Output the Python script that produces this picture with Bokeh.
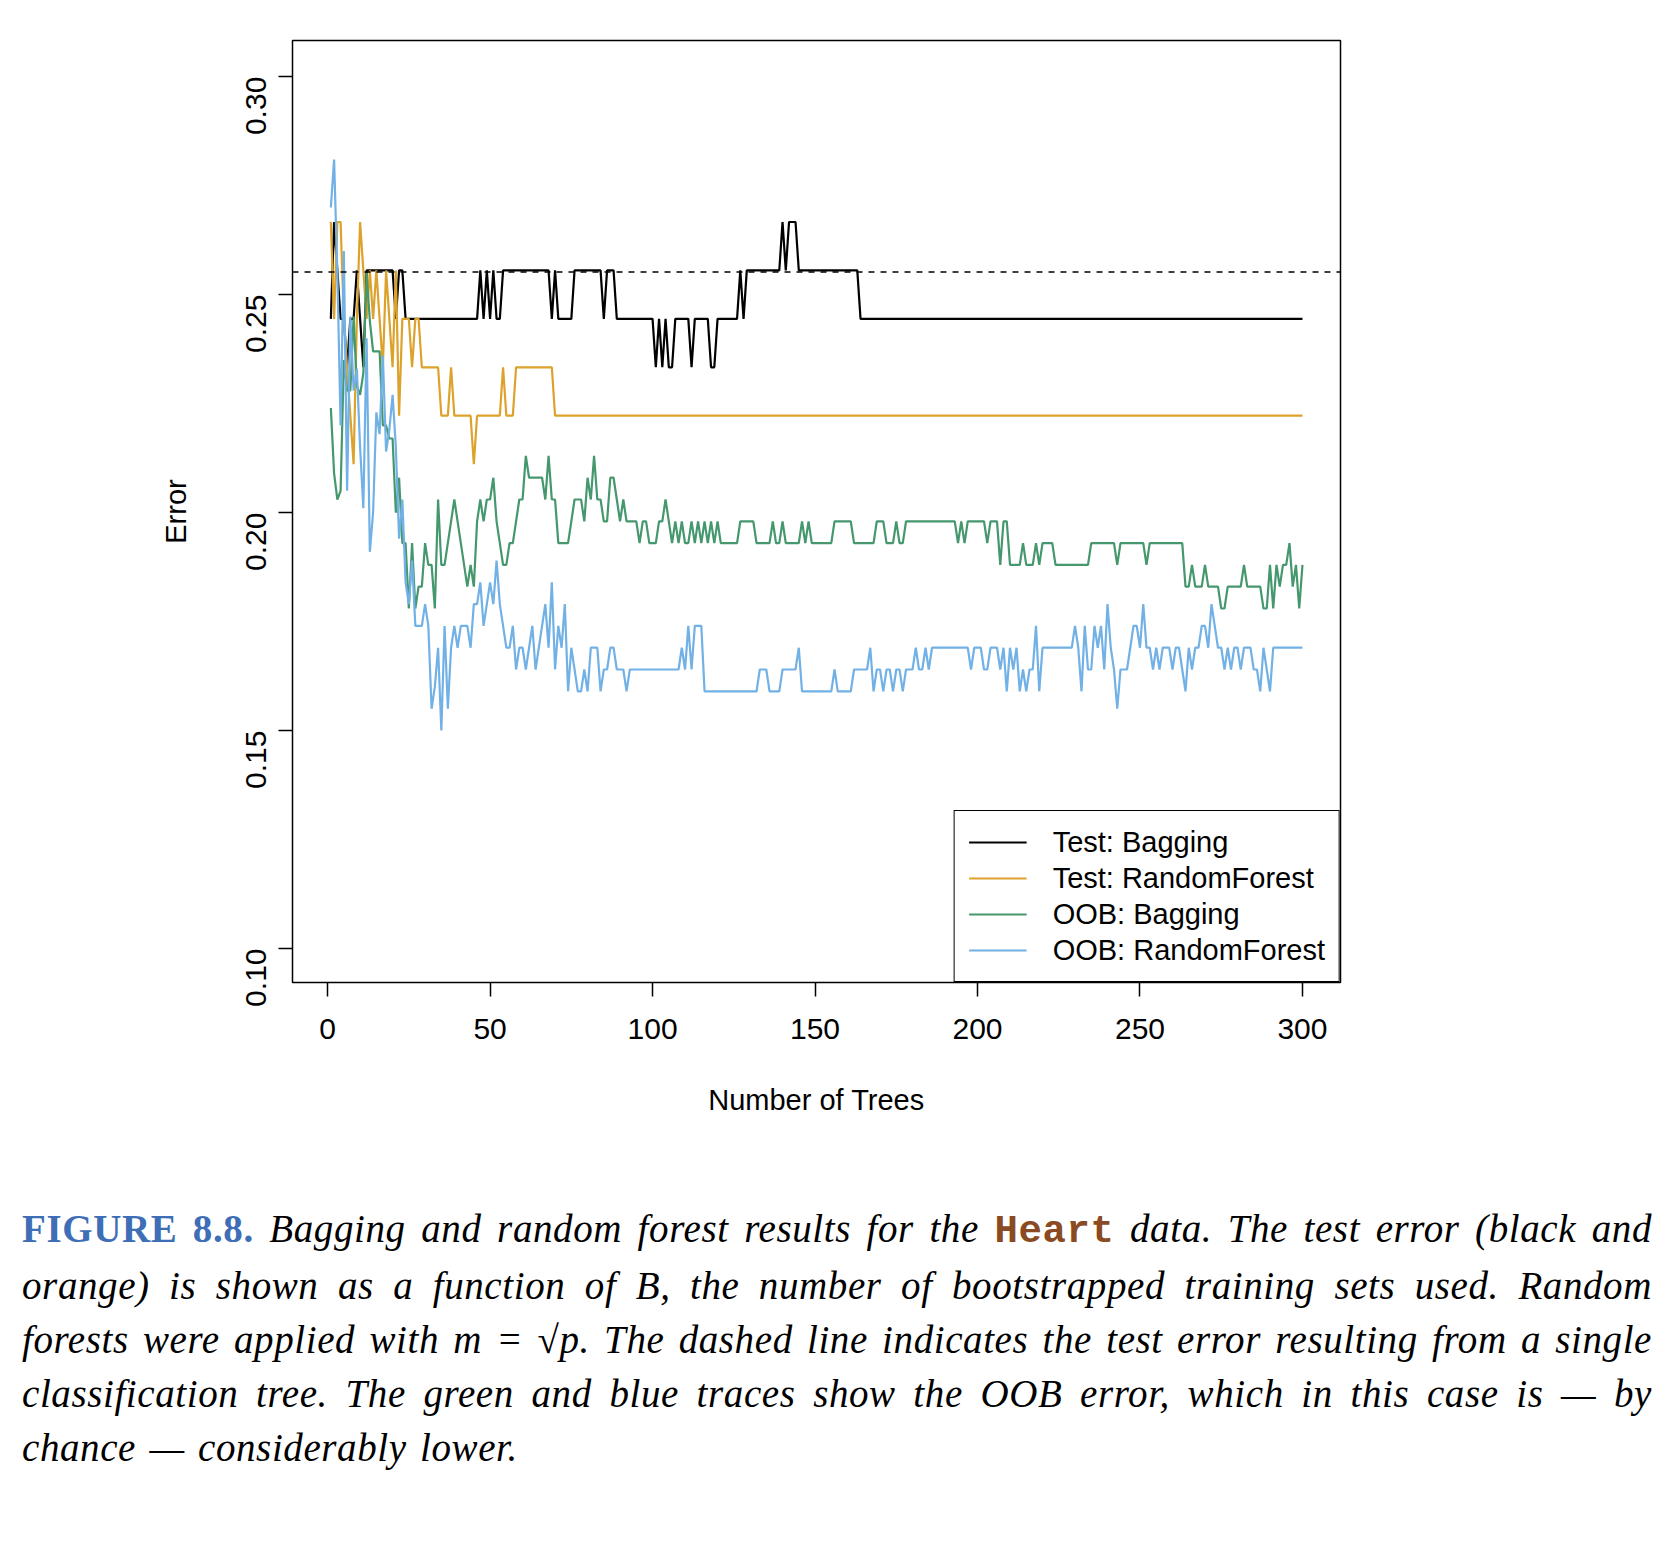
import numpy as np

from bokeh.plotting import figure
from bokeh.layouts import column
from bokeh.models import Span, Range1d, FixedTicker, Legend, LegendItem, Div
from bokeh.embed import file_html
from bokeh.resources import INLINE

# values, as (value, number of trees) runs
test_bag_runs = [(22,1),(24,1),(23,1),(22,2),(21,1),(22,2),(23,1),(22,1),(21,1),(23,9),(22,1),(23,2),(22,23),
                 (23,1),(22,1),(23,1),(22,1),(23,1),(22,2),(23,15),
                 (22,1),(23,1),(22,5),(23,9),(22,1),(23,3),(22,12),
                 (21,1),(22,1),(21,1),(22,1),(21,2),(22,5),(21,1),(22,5),(21,2),(22,5),
                 (22,2),(23,1),(22,1),(23,11),(24,1),(23,1),(24,3),(23,19),(22,137)]
test_rf_runs = [(24,1),(22,1),(24,2),(22,1),(21,1),(20,1),(19,1),(22,1),(24,1),(23,1),(22,1),(23,1),(22,1),(23,1),
                (22,1),(21,1),(23,1),(22,1),(21,1),(23,1),(20,1),(22,3),(21,1),(22,2),
                (21,6),(20,3),(21,1),(20,6),(19,1),(20,8),(21,1),(20,3),(21,12),(20,231)]
test_size = 90

oob_bag_runs = [(0.224,1),(0.209,1),(0.203,1),(0.205,1),(0.235,1),(0.228,2),(0.245,1),(0.229,1),(0.227,1),(0.232,1),
                (0.255,1),(0.244,1),(0.237,3),(0.220,2),(0.217,2),(0.200,1),(0.208,1),(0.193,2),(0.178,1),(0.193,1),
                (0.178,1),(0.183,2),(0.193,1),(0.188,2),(0.178,1),
                (0.203,1),(0.188,2),(0.193,1),(0.198,1),(0.203,1),(0.198,1),(0.193,1),(0.188,1),(0.183,1),(0.188,1),
                (0.183,1),(0.198,1),(0.203,1),(0.198,1),(0.203,2),(0.208,1),(0.198,1),(0.193,1),(0.188,2),(0.193,2),
                (0.198,1),(0.203,2),(0.213,1),(0.208,5),(0.203,1),(0.213,1),(0.203,2),(0.193,4),(0.198,1),(0.203,3),
                (0.198,1),(0.208,1),(0.203,1),(0.213,1),(0.203,2),(0.198,2),(0.208,2),(0.203,1),(0.198,1),(0.203,1),
                (0.198,4),(0.193,1),(0.198,2),(0.193,3),(0.198,2),(0.203,1),(0.198,1),(0.193,1),(0.198,1),(0.193,1),(0.198,1),
                (0.193,2),(0.198,1),(0.193,1),(0.198,1),(0.193,1),(0.198,1),(0.193,1),(0.198,1),(0.193,1),(0.198,1),
                (0.193,6),(0.198,5),(0.193,5),(0.198,1),(0.193,2),(0.198,1),(0.193,5),
                (0.198,1),(0.193,1),(0.198,1),(0.193,7),(0.198,6),(0.193,7),(0.198,3),(0.193,3),(0.198,1),(0.193,2),
                (0.198,16),(0.193,1),(0.198,1),(0.193,1),(0.198,6),(0.193,1),(0.198,3),(0.188,1),(0.198,2),(0.188,4),
                (0.193,1),(0.188,3),(0.193,1),(0.188,1),(0.193,4),(0.188,11),(0.193,8),(0.188,1),(0.193,8),(0.188,1),
                (0.193,11),(0.183,2),(0.188,1),(0.183,3),(0.188,1),(0.183,4),(0.178,2),(0.183,5),(0.188,1),(0.183,5),
                (0.178,2),(0.188,1),(0.178,1),(0.188,1),(0.183,1),(0.188,2),(0.193,1),(0.183,1),(0.188,1),(0.178,1),(0.188,1)]

oob_rf_runs = [(0.270,1),(0.281,1),(0.255,1),(0.220,1),(0.260,1),(0.205,1),(0.245,1),(0.228,1),(0.233,1),(0.215,1),
               (0.201,1),(0.240,1),(0.191,1),(0.200,1),(0.223,1),(0.218,1),(0.236,1),(0.214,1),(0.219,1),(0.227,1),
               (0.215,1),(0.194,1),(0.203,1),(0.184,1),(0.179,1),(0.189,1),(0.174,3),(0.179,1),(0.174,1),(0.155,1),
               (0.160,1),(0.169,1),(0.150,1),(0.174,1),(0.155,1),(0.169,1),(0.174,1),(0.169,1),(0.174,3),(0.169,1),
               (0.179,2),(0.184,1),(0.174,1),(0.179,1),(0.184,1),(0.179,1),(0.189,1),(0.179,1),(0.174,1),(0.169,2),
               (0.174,1),(0.164,1),(0.169,2),(0.164,1),(0.169,1),(0.174,1),(0.164,1),(0.169,1),(0.174,1),(0.179,1),
               (0.169,1),(0.184,1),(0.164,1),(0.174,1),(0.169,1),(0.179,1),(0.159,1),(0.169,1),(0.164,1),(0.159,2),
               (0.164,1),(0.159,1),(0.169,3),(0.159,1),(0.164,2),(0.169,2),(0.164,3),(0.159,1),(0.164,2),
               (0.164,14),(0.169,1),(0.164,1),(0.174,1),(0.164,1),(0.174,3),(0.159,17),(0.164,3),(0.159,4),(0.164,5),(0.169,1),
               (0.159,10),(0.164,1),(0.159,5),(0.164,5),(0.169,1),(0.159,1),(0.164,2),(0.159,1),(0.164,2),(0.159,1),
               (0.164,2),(0.159,1),(0.164,3),(0.169,1),(0.164,2),(0.169,1),(0.164,1),(0.169,12),(0.164,1),(0.169,3),
               (0.164,2),(0.169,3),(0.164,1),(0.169,1),(0.159,1),(0.169,1),(0.164,1),(0.169,1),(0.159,1),(0.164,1),
               (0.159,1),(0.164,2),(0.174,1),(0.159,1),(0.169,10),(0.174,1),(0.169,1),(0.159,1),(0.174,1),(0.164,2),
               (0.174,1),(0.169,1),(0.174,1),(0.164,1),(0.179,1),(0.169,1),(0.164,1),(0.155,1),(0.164,3),(0.169,1),
               (0.174,2),(0.169,1),(0.179,1),(0.169,2),(0.164,1),(0.169,1),(0.164,1),(0.169,3),(0.164,1),(0.169,2),
               (0.164,1),(0.159,1),(0.169,1),
               (0.164,1),(0.169,2),(0.174,2),(0.169,1),(0.179,1),(0.174,1),(0.169,2),(0.164,1),(0.169,1),(0.164,1),
               (0.169,2),(0.164,1),(0.169,3),(0.164,2),(0.159,1),(0.169,1),(0.164,1),(0.159,1),(0.169,10)]

single_tree_error = 0.2552
x_ticks = [0, 50, 100, 150, 200, 250, 300]
y_ticks = [0.10, 0.15, 0.20, 0.25, 0.30]


def expand(runs, scale=1.0):
    vals = np.repeat([v for v, n in runs], [n for v, n in runs]) * scale
    return np.arange(1, len(vals) + 1), vals


FONT = "Liberation Sans"

p = figure(width=1400, height=1152, output_backend="svg", toolbar_location=None,
           x_range=Range1d(-10.8, 311.7), y_range=Range1d(0.0922, 0.3083),
           min_border_left=292, min_border_right=60, min_border_top=40, min_border_bottom=170)
p.outline_line_color = "black"
p.outline_line_width = 1.5
p.grid.visible = False

series = [
    ("Test: Bagging", expand(test_bag_runs, 1.0 / test_size), "black"),
    ("Test: RandomForest", expand(test_rf_runs, 1.0 / test_size), "#DDA22B"),
    ("OOB: Bagging", expand(oob_bag_runs), "#45976D"),
    ("OOB: RandomForest", expand(oob_rf_runs), "#72B1E6"),
]
items = []
for name, (xs, ys), col in series:
    r = p.line(xs, ys, line_color=col, line_width=2.2)
    items.append(LegendItem(label=name, renderers=[r]))

p.add_layout(Span(location=single_tree_error, dimension="width", line_color="black",
                  line_dash="6 6", line_width=1.5))

for ax in (p.xaxis[0], p.yaxis[0]):
    ax.major_tick_out = 14
    ax.major_tick_in = 0
    ax.minor_tick_out = 0
    ax.axis_line_color = None
    ax.major_tick_line_width = 1.5
    ax.major_label_text_font = FONT
    ax.major_label_text_font_size = "30px"
    ax.major_label_text_color = "black"
    ax.axis_label_text_font = FONT
    ax.axis_label_text_font_size = "29px"
    ax.axis_label_text_font_style = "normal"
    ax.axis_label_text_color = "black"

p.xaxis.ticker = FixedTicker(ticks=x_ticks)
p.xaxis.major_label_standoff = 22
p.xaxis.axis_label = "Number of Trees"
p.xaxis.axis_label_standoff = 42
p.yaxis.ticker = FixedTicker(ticks=y_ticks)
p.yaxis.major_label_overrides = {t: f"{t:.2f}" for t in y_ticks}
p.yaxis.major_label_orientation = np.pi / 2
p.yaxis.major_label_standoff = 22
p.yaxis.axis_label = "Error"
p.yaxis.axis_label_standoff = 42

legend = Legend(items=items, location="bottom_right")
legend.border_line_color = "black"
legend.border_line_alpha = 1
legend.border_line_width = 1.5
legend.margin = 0
legend.padding = 14
legend.spacing = 2
legend.glyph_width = 58
legend.glyph_height = 34
legend.label_standoff = 26
legend.label_text_font = FONT
legend.label_text_font_size = "29px"
legend.label_text_color = "black"
legend.label_height = 34
legend.background_fill_alpha = 1
p.add_layout(legend)

caption = Div(width=1630, styles={"font-family": "Liberation Serif, DejaVu Serif, serif",
                                   "font-size": "39px", "line-height": "54px",
                                   "word-spacing": "3px", "letter-spacing": "0.6px",
                                   "text-align": "justify", "margin-left": "22px",
                                   "margin-top": "50px", "color": "black"},
              text=('<span style="color:#3E6EB5;font-weight:bold">FIGURE 8.8.</span> '
                    '<i>Bagging and random forest results for the</i> '
                    '<span style="font-family:Liberation Mono, monospace;color:#8A4B22;font-weight:bold">Heart</span> '
                    '<i>data. The test error (black and orange) is shown as a function of B, '
                    'the number of bootstrapped training sets used. Random forests were applied '
                    'with m = √p. The dashed line indicates the test error resulting from a single '
                    'classification tree. The green and blue traces show the OOB error, which in '
                    'this case is — by chance — considerably lower.</i>'))

page = column(p, caption)
open("out.html", "w").write(file_html(page, INLINE))
